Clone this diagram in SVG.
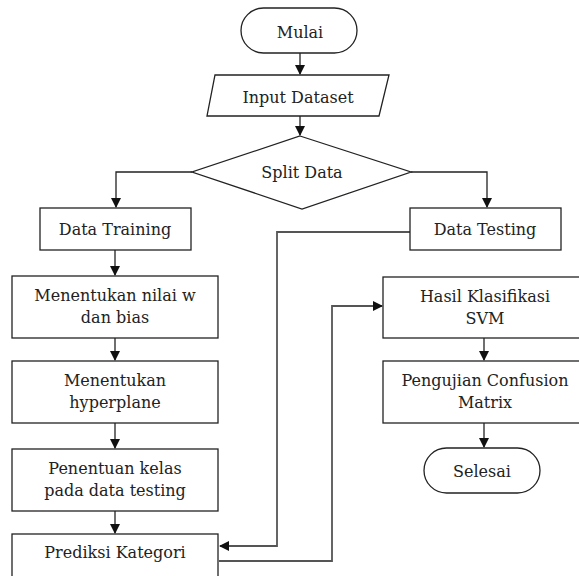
<svg xmlns="http://www.w3.org/2000/svg" width="579" height="576" viewBox="0 0 579 576">
<style>
.s{fill:#fff;stroke:#222;stroke-width:1.3}
.t{font-family:"DejaVu Serif","Liberation Serif",serif;font-size:16px;fill:#222;text-anchor:middle}
.c{fill:none;stroke:#222;stroke-width:1.3}
.g{fill:none;stroke:#555;stroke-width:1.8}
</style>
<defs>
<marker id="ar" markerWidth="10" markerHeight="10" refX="9" refY="5" orient="auto" markerUnits="userSpaceOnUse">
<path d="M0,0 L10,5 L0,10 z" fill="#111"/>
</marker>
</defs>
<rect width="579" height="576" fill="#fff"/>
<g id="connectors">
<line class="c" x1="300" y1="53" x2="300" y2="74" marker-end="url(#ar)"/>
<line class="c" x1="300" y1="116" x2="300" y2="135" marker-end="url(#ar)"/>
<polyline class="c" points="192,172 116,172 116,207" marker-end="url(#ar)"/>
<polyline class="c" points="411,172 487,172 487,207" marker-end="url(#ar)"/>
<line class="c" x1="115" y1="250" x2="115" y2="275" marker-end="url(#ar)"/>
<line class="c" x1="115" y1="338" x2="115" y2="360" marker-end="url(#ar)"/>
<line class="c" x1="115" y1="423" x2="115" y2="448" marker-end="url(#ar)"/>
<line class="c" x1="115" y1="511" x2="115" y2="533" marker-end="url(#ar)"/>
<polyline class="g" points="410,232 277,232 277,546 220,546" marker-end="url(#ar)"/>
<polyline class="g" points="219,561 332,561 332,306 382,306" marker-end="url(#ar)"/>
<line class="c" x1="484" y1="338" x2="484" y2="360" marker-end="url(#ar)"/>
<line class="c" x1="484" y1="423" x2="484" y2="447" marker-end="url(#ar)"/>
</g>
<g id="mulai">
<rect class="s" x="241" y="8" width="116" height="45" rx="22.5"/>
<text class="t" x="300" y="38">Mulai</text>
</g>
<g id="input">
<polygon class="s" points="215,75 389,75 379,116 207,116"/>
<text class="t" x="298" y="103">Input Dataset</text>
</g>
<g id="split">
<polygon class="s" points="300,136 411,172 302,209 192,172"/>
<text class="t" x="302" y="178">Split Data</text>
</g>
<g id="training">
<rect class="s" x="40" y="208" width="151" height="42"/>
<text class="t" x="115" y="235">Data Training</text>
</g>
<g id="testing">
<rect class="s" x="410" y="208" width="151" height="42"/>
<text class="t" x="485" y="235">Data Testing</text>
</g>
<g id="nilai">
<rect class="s" x="12" y="276" width="206" height="62"/>
<text class="t" x="115" y="301">Menentukan nilai w</text>
<text class="t" x="115" y="323">dan bias</text>
</g>
<g id="hyperplane">
<rect class="s" x="12" y="361" width="206" height="62"/>
<text class="t" x="115" y="386">Menentukan</text>
<text class="t" x="115" y="408">hyperplane</text>
</g>
<g id="penentuan">
<rect class="s" x="12" y="449" width="206" height="62"/>
<text class="t" x="115" y="474">Penentuan kelas</text>
<text class="t" x="115" y="496">pada data testing</text>
</g>
<g id="prediksi">
<rect class="s" x="12" y="534" width="206" height="62"/>
<text class="t" x="115" y="558">Prediksi Kategori</text>
</g>
<g id="hasil">
<rect class="s" x="383" y="277" width="205" height="61"/>
<text class="t" x="485" y="302">Hasil Klasifikasi</text>
<text class="t" x="485" y="324">SVM</text>
</g>
<g id="pengujian">
<rect class="s" x="383" y="361" width="205" height="62"/>
<text class="t" x="485" y="386">Pengujian Confusion</text>
<text class="t" x="485" y="408">Matrix</text>
</g>
<g id="selesai">
<rect class="s" x="424" y="448" width="116" height="45" rx="22.5"/>
<text class="t" x="482" y="477">Selesai</text>
</g>
</svg>
